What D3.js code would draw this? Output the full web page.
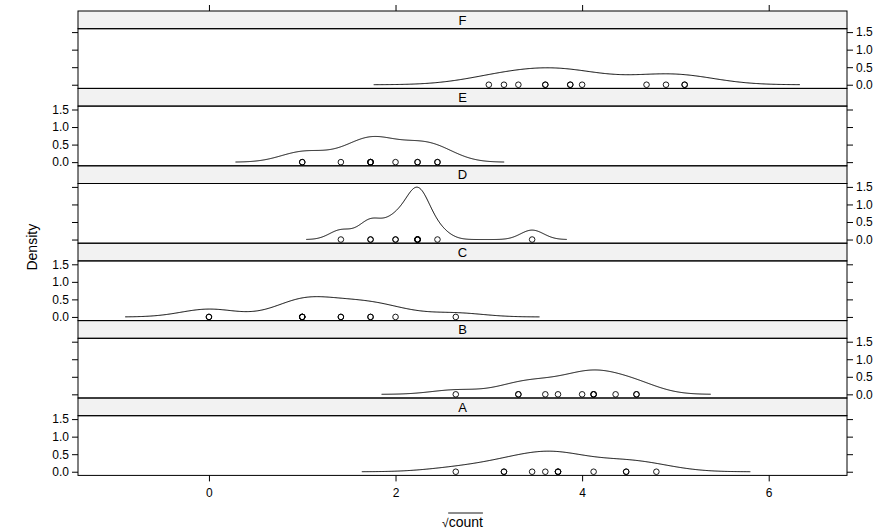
<!DOCTYPE html>
<html>
<head>
<meta charset="utf-8">
<script src="https://cdn.jsdelivr.net/npm/d3@7"></script>
<style>
  body { margin: 0; background: #fff; }
  text { font-family: "Liberation Sans", Arial, sans-serif; fill: #000; }
</style>
</head>
<body>
<div id="chart"></div>
<script>
const width = 896;
const height = 531;

// InsectSprays counts, one array per spray
const sprays = ["A", "B", "C", "D", "E", "F"];
const countA = [10, 7, 20, 14, 14, 12, 10, 23, 17, 20, 14, 13];
const countB = [11, 17, 21, 11, 16, 14, 17, 17, 19, 21, 7, 13];
const countC = [0, 1, 7, 2, 3, 1, 2, 1, 3, 0, 1, 4];
const countD = [3, 5, 12, 6, 4, 3, 5, 5, 5, 5, 2, 4];
const countE = [3, 5, 3, 5, 3, 6, 1, 1, 3, 2, 6, 4];
const countF = [11, 9, 15, 22, 15, 16, 13, 10, 26, 26, 24, 13];
const xTicks = [0, 2, 4, 6];
const yTicks = [0, 0.5, 1, 1.5];

const counts = {A: countA, B: countB, C: countC, D: countD, E: countE, F: countF};

const plot = {left: 78, right: 847, top: 11};
const stripH = 17.7;
const panelH = 59.7;
const tickLen = 6;

// bandwidth like R's bw.nrd0
function quant(s, p) {
  const h = (s.length - 1) * p, lo = Math.floor(h);
  return s[lo] + (h - lo) * ((s[lo + 1] !== undefined ? s[lo + 1] : s[lo]) - s[lo]);
}
function bwNrd0(x) {
  const s = x.slice().sort((a, b) => a - b);
  const sd = d3.deviation(x);
  const iqr = quant(s, 0.75) - quant(s, 0.25);
  let lo = Math.min(sd, iqr / 1.34);
  if (!(lo > 0)) lo = sd || Math.abs(s[0]) || 1;
  return 0.9 * lo * Math.pow(x.length, -0.2);
}
function kde(x) {
  const bw = bwNrd0(x);
  const a = d3.min(x) - 3 * bw, b = d3.max(x) + 3 * bw;
  const n = 512, out = [];
  for (let i = 0; i < n; i++) {
    const t = a + (b - a) * i / (n - 1);
    let s = 0;
    x.forEach(v => { const z = (t - v) / bw; s += Math.exp(-0.5 * z * z); });
    out.push([t, s / (x.length * bw * Math.sqrt(2 * Math.PI))]);
  }
  return out;
}

const panels = sprays.map(k => {
  const vals = counts[k].map(Math.sqrt);
  return {key: k, vals: vals, dens: kde(vals)};
});

const allX = panels.flatMap(p => p.dens.map(d => d[0]));
const xMin = d3.min(allX), xMax = d3.max(allX);
const xr = xMax - xMin;
const yMax = d3.max(panels.flatMap(p => p.dens.map(d => d[1])));

const x = d3.scaleLinear()
  .domain([xMin - 0.07 * xr, xMax + 0.07 * xr])
  .range([plot.left, plot.right]);

const svg = d3.select("#chart").append("svg")
  .attr("width", width)
  .attr("height", height);

const nP = sprays.length;
const bottom = plot.top + nP * (stripH + panelH);

panels.forEach((p, i) => {
  // A at the bottom, F at the top
  const row = nP - 1 - i;
  const stripTop = plot.top + row * (stripH + panelH);
  const pTop = stripTop + stripH;
  const pBot = pTop + panelH;

  const y = d3.scaleLinear()
    .domain([-0.07 * yMax, 1.07 * yMax])
    .range([pBot, pTop]);

  const g = svg.append("g");

  g.append("rect")
    .attr("x", plot.left).attr("y", stripTop)
    .attr("width", plot.right - plot.left).attr("height", stripH)
    .attr("fill", "#f2f2f2").attr("stroke", "#000").attr("stroke-width", 1);
  g.append("text")
    .attr("x", (plot.left + plot.right) / 2)
    .attr("y", stripTop + stripH / 2 + 4.8)
    .attr("text-anchor", "middle")
    .attr("font-size", 13)
    .text(p.key);

  g.append("rect")
    .attr("x", plot.left).attr("y", pTop)
    .attr("width", plot.right - plot.left).attr("height", panelH)
    .attr("fill", "none").attr("stroke", "#000").attr("stroke-width", 1);

  // y axes alternate: labels left on A, C, E; right on B, D, F
  const labelLeft = i % 2 === 0;
  const left = d3.axisLeft(y).tickValues(yTicks).tickSize(tickLen)
    .tickFormat(labelLeft ? d3.format(".1f") : "");
  const right = d3.axisRight(y).tickValues(yTicks).tickSize(tickLen)
    .tickFormat(labelLeft ? "" : d3.format(".1f"));
  [[left, plot.left], [right, plot.right]].forEach(([ax, pos]) => {
    const a = g.append("g").attr("transform", `translate(${pos},0)`).call(ax);
    a.select(".domain").remove();
    a.selectAll("line").attr("stroke", "#000");
    a.selectAll("text").attr("font-size", 12)
      .attr("font-family", "Liberation Sans, Arial, sans-serif");
  });

  const line = d3.line().x(d => x(d[0])).y(d => y(d[1]));
  g.append("path")
    .datum(p.dens)
    .attr("d", line)
    .attr("fill", "none")
    .attr("stroke", "#000")
    .attr("stroke-width", 1);

  g.selectAll("circle")
    .data(p.vals)
    .join("circle")
    .attr("cx", d => x(d))
    .attr("cy", y(0))
    .attr("r", 2.8)
    .attr("fill", "none")
    .attr("stroke", "#000")
    .attr("stroke-width", 0.9);
});

// x axes: labels at bottom, ticks only on top
const xb = svg.append("g").attr("transform", `translate(0,${bottom})`)
  .call(d3.axisBottom(x).tickValues(xTicks).tickSize(tickLen).tickFormat(d3.format("d")));
xb.select(".domain").remove();
xb.selectAll("text").attr("font-size", 12).attr("dy", "1.05em")
  .attr("font-family", "Liberation Sans, Arial, sans-serif");
const xt = svg.append("g").attr("transform", `translate(0,${plot.top})`)
  .call(d3.axisTop(x).tickValues(xTicks).tickSize(tickLen).tickFormat(""));
xt.select(".domain").remove();

// axis titles
svg.append("text")
  .attr("transform", `translate(37,${(plot.top + bottom) / 2 + 4}) rotate(-90)`)
  .attr("text-anchor", "middle")
  .attr("font-size", 14)
  .text("Density");

const cx = (plot.left + plot.right) / 2;
const lab = svg.append("g");
const rad = lab.append("text").attr("y", 526.5).attr("font-size", 12).text("\u221A");
const word = lab.append("text").attr("y", 526.5).attr("font-size", 14).text("count");
const rw = rad.node().getComputedTextLength();
const ww = word.node().getComputedTextLength();
const x0 = cx - (rw + ww) / 2;
rad.attr("x", x0);
word.attr("x", x0 + rw);
lab.append("line")
  .attr("x1", x0 + rw - 0.5).attr("x2", x0 + rw + ww)
  .attr("y1", 513).attr("y2", 513)
  .attr("stroke", "#000").attr("stroke-width", 0.9);
</script>
</body>
</html>
